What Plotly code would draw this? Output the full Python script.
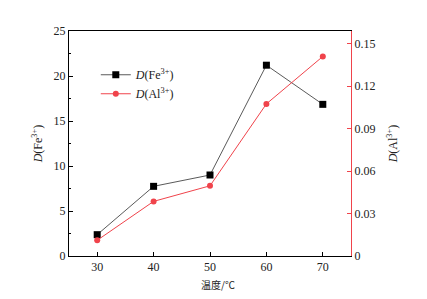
import plotly.graph_objects as go

temps = [30, 40, 50, 60, 70]
d_fe = [2.37, 7.74, 9.0, 21.2, 16.85]
d_al = [0.0111, 0.0386, 0.0496, 0.1075, 0.141]
x_ticks = [30, 40, 50, 60, 70]
y2_ticks = [0, 0.03, 0.06, 0.09, 0.12, 0.15]
y2_labels = ["0", "0.03", "0.06", "0.09", "0.12", "0.15"]

RED = "#f0434b"
serif = "Liberation Serif, Times New Roman, serif"

fig = go.Figure()
fig.add_trace(go.Scatter(
    x=temps, y=d_fe, mode="lines+markers",
    name="<i>D</i>(Fe<sup>3+</sup>)",
    line=dict(color="#5a5a5a", width=1),
    marker=dict(symbol="square", size=7, color="black"),
))
fig.add_trace(go.Scatter(
    x=temps, y=d_al, mode="lines+markers", yaxis="y2",
    name="<i>D</i>(Al<sup>3+</sup>)",
    line=dict(color=RED, width=1),
    marker=dict(symbol="circle", size=6, color=RED),
))

fig.update_layout(
    width=427, height=299,
    margin=dict(l=61, r=84, t=23, b=51),
    paper_bgcolor="white", plot_bgcolor="white",
    font=dict(family=serif, size=12, color="#222"),
    showlegend=True,
    legend=dict(x=0.095, y=0.87, xanchor="left", yanchor="top",
                bgcolor="rgba(0,0,0,0)", font=dict(size=12, family=serif),
                itemwidth=30, tracegroupgap=0),
    xaxis=dict(range=[25, 75], tickvals=x_ticks, ticks="inside", ticklen=4,
               tickcolor="black", showline=True, linecolor="black", linewidth=1,
               mirror=True, showgrid=False, zeroline=False),
    yaxis=dict(range=[0, 25], dtick=5, ticks="inside", ticklen=4, tickcolor="black",
               showline=True, linecolor="black", linewidth=1, showgrid=False,
               zeroline=False,
               minor=dict(dtick=2.5, ticks="inside", ticklen=2, tickcolor="black"),
               title=dict(text="<i>D</i>(Fe<sup>3+</sup>)", standoff=8,
                          font=dict(size=12, family=serif))),
    yaxis2=dict(range=[0, 0.159], overlaying="y", side="right",
                tickvals=y2_ticks, ticktext=y2_labels, ticks="inside", ticklen=4,
                tickcolor=RED, showline=True, linecolor=RED, linewidth=1,
                showgrid=False, zeroline=False,
                title=dict(text="<i>D</i>(Al<sup>3+</sup>)", standoff=14,
                           font=dict(size=12, family=serif))),
    annotations=[dict(text="温度/℃", xref="paper", yref="paper", x=0.528, y=-0.125,
                      showarrow=False, xanchor="center", yanchor="middle",
                      font=dict(family="Noto Sans CJK SC", size=10, color="#222"))],
)

fig.write_html("out.html")
